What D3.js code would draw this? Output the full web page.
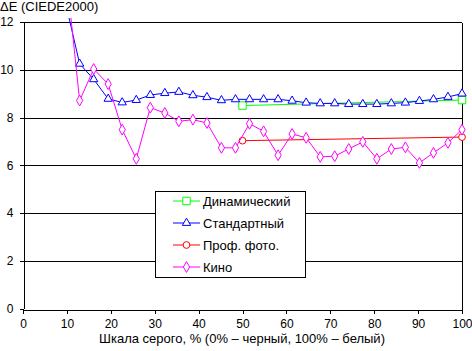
<!DOCTYPE html>
<html>
<head>
<meta charset="utf-8">
<script src="https://cdn.jsdelivr.net/npm/d3@7"></script>
<style>
  body { margin: 0; background: #fff; }
  svg { display: block; font-family: "Liberation Sans", Arial, sans-serif; }
</style>
</head>
<body>
<svg id="chart"></svg>
<script>
// grey levels, % (step of 1/31)
const grey = [9.7, 12.9, 16.1, 19.4, 22.6, 25.8, 29.0, 32.3, 35.5, 38.7, 41.9, 45.2, 48.4, 51.6,
  54.8, 58.1, 61.3, 64.5, 67.7, 71.0, 74.2, 77.4, 80.6, 83.9, 87.1, 90.3, 93.5, 96.8, 100];
const standard = [12.8, 10.25, 9.6, 8.78, 8.63, 8.73, 8.94, 9.02, 9.07, 8.93, 8.85, 8.72, 8.76, 8.76,
  8.76, 8.76, 8.70, 8.62, 8.59, 8.59, 8.56, 8.56, 8.56, 8.59, 8.62, 8.69, 8.76, 8.86, 9.0];
const kino = [14.3, 8.71, 10.03, 9.40, 7.49, 6.27, 8.41, 8.19, 7.84, 7.91, 7.77, 6.73, 6.73, 7.74,
  7.42, 6.42, 7.31, 7.15, 6.35, 6.38, 6.68, 6.98, 6.27, 6.68, 6.75, 6.10, 6.52, 6.94, 7.49];
const shortX = [50, 100];
const dynamic = [8.5, 8.73];
const photo = [7.03, 7.18];

const yTicks = [0, 2, 4, 6, 8, 10, 12];
const xTicks = [0, 10, 20, 30, 40, 50, 60, 70, 80, 90, 100];

const series = [
  { name: 'Динамический', color: '#00ff00', marker: 'square', xs: shortX, ys: dynamic },
  { name: 'Стандартный', color: '#0000ff', marker: 'triangle', xs: grey, ys: standard },
  { name: 'Проф. фото.', color: '#ff0000', marker: 'circle', xs: shortX, ys: photo },
  { name: 'Кино', color: '#ff00ff', marker: 'diamond', xs: grey, ys: kino }
];

const W = 472, H = 351;
const svg = d3.select('#chart').attr('width', W).attr('height', H);

const x = d3.scaleLinear().domain([0, 100]).range([23, 462]);
const y = d3.scaleLinear().domain([0, 12]).range([308.5, 22]);

// gridlines
svg.append('g')
  .selectAll('line')
  .data(yTicks.filter(d => d > 0))
  .join('line')
  .attr('x1', x(0)).attr('x2', x(100))
  .attr('y1', d => Math.round(y(d)) + 0.5).attr('y2', d => Math.round(y(d)) + 0.5)
  .attr('stroke', '#000')
  .attr('shape-rendering', 'crispEdges');

// right border
svg.append('line')
  .attr('x1', x(100) + 0.5).attr('x2', x(100) + 0.5)
  .attr('y1', Math.round(y(12)) + 0.5).attr('y2', Math.round(y(0)) + 0.5)
  .attr('stroke', '#000').attr('shape-rendering', 'crispEdges');

// axes
const yAxis = svg.append('g')
  .attr('transform', `translate(${x(0) + 0.5},0)`)
  .call(d3.axisLeft(y).tickValues(yTicks).tickSize(4).tickPadding(6).tickSizeOuter(0));
const xAxis = svg.append('g')
  .attr('transform', `translate(0,${Math.round(y(0)) + 0.5})`)
  .call(d3.axisBottom(x).tickValues(xTicks).tickSize(4).tickPadding(6).tickSizeOuter(0));

[yAxis, xAxis].forEach(g => {
  g.select('.domain').attr('stroke', '#000').attr('shape-rendering', 'crispEdges');
  g.selectAll('.tick line').attr('stroke', '#000').attr('shape-rendering', 'crispEdges');
  g.selectAll('.tick text')
    .attr('fill', '#000')
    .style('font-size', '12px')
    .style('font-family', '"Liberation Sans", Arial, sans-serif');
});
yAxis.selectAll('.tick text').attr('x', -10);

// titles
svg.append('text')
  .attr('x', 0).attr('y', 11)
  .style('font-size', '13px')
  .text('ΔE (CIEDE2000)');

svg.append('text')
  .attr('x', 242).attr('y', 343)
  .attr('text-anchor', 'middle')
  .style('font-size', '13px')
  .text('Шкала серого, % (0% – черный, 100% – белый)');

// data
svg.append('clipPath').attr('id', 'clip')
  .append('rect').attr('x', 0).attr('y', 18).attr('width', W).attr('height', 300);

const symbols = {
  square: d3.symbol(d3.symbolSquare, 56),
  triangle: d3.symbol(d3.symbolTriangle, 30),
  circle: d3.symbol(d3.symbolCircle, 36),
  diamond: d3.symbol(d3.symbolDiamond, 34)
};

const plot = svg.append('g').attr('clip-path', 'url(#clip)');
const line = d3.line().x(d => x(d[0])).y(d => y(d[1]));

series.forEach(s => {
  const pts = s.xs.map((v, i) => [v, s.ys[i]]);
  plot.append('path')
    .datum(pts)
    .attr('d', line)
    .attr('fill', 'none')
    .attr('stroke', s.color)
    .attr('stroke-width', 1);
  plot.selectAll(null)
    .data(pts)
    .join('path')
    .attr('transform', d => `translate(${x(d[0])},${y(d[1])})`)
    .attr('d', symbols[s.marker])
    .attr('fill', '#fff')
    .attr('stroke', s.color)
    .attr('stroke-width', 1);
});

// legend
const legend = svg.append('g');
legend.append('rect')
  .attr('x', 155.5).attr('y', 191.5)
  .attr('width', 150).attr('height', 86)
  .attr('fill', '#fff').attr('stroke', '#000')
  .attr('shape-rendering', 'crispEdges');

series.forEach((s, i) => {
  const ly = 201 + i * 22;
  legend.append('line')
    .attr('x1', 173).attr('x2', 200)
    .attr('y1', ly).attr('y2', ly)
    .attr('stroke', s.color);
  legend.append('path')
    .attr('transform', `translate(186.5,${ly})`)
    .attr('d', symbols[s.marker])
    .attr('fill', '#fff')
    .attr('stroke', s.color);
  legend.append('text')
    .attr('x', 203).attr('y', ly + 4.5)
    .style('font-size', '13px')
    .text(s.name);
});
</script>
</body>
</html>
